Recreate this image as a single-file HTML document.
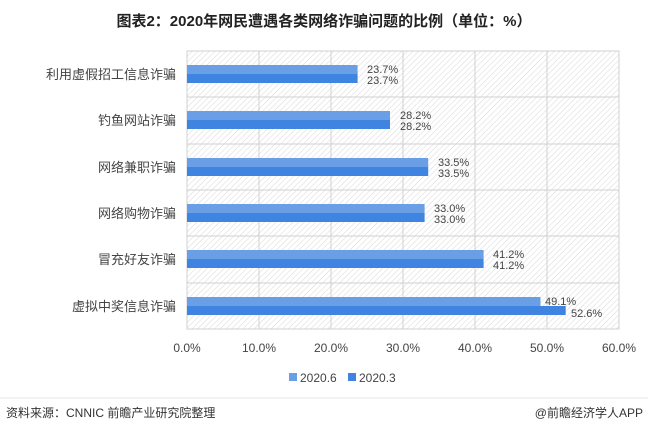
<!DOCTYPE html>
<html><head><meta charset="utf-8"><style>
body{margin:0;background:#fff;width:648px;height:435px;overflow:hidden;font-family:"Liberation Sans","Noto Sans CJK SC",sans-serif;}
</style></head><body>
<svg width="648" height="435" xmlns="http://www.w3.org/2000/svg" font-family="Liberation Sans, Noto Sans CJK SC, sans-serif">
<defs>
<pattern id="h" width="4" height="4" patternUnits="userSpaceOnUse" patternTransform="rotate(45)">
<line x1="0" y1="0" x2="0" y2="4" stroke="#d8d8d8" stroke-width="1"/>
</pattern>
</defs>
<text x="324" y="26" text-anchor="middle" font-size="15" font-weight="bold" fill="#222">图表2：2020年网民遭遇各类网络诈骗问题的比例（单位：%）</text>
<rect x="187" y="51" width="432" height="278" fill="url(#h)" stroke="#d0d0d0"/>
<g stroke="#d0d0d0">
<line x1="259" y1="51" x2="259" y2="329"/><line x1="331" y1="51" x2="331" y2="329"/>
<line x1="403" y1="51" x2="403" y2="329"/><line x1="475" y1="51" x2="475" y2="329"/>
<line x1="547" y1="51" x2="547" y2="329"/>
<line x1="187" y1="97" x2="619" y2="97"/><line x1="187" y1="144" x2="619" y2="144"/>
<line x1="187" y1="190" x2="619" y2="190"/><line x1="187" y1="236" x2="619" y2="236"/>
<line x1="187" y1="283" x2="619" y2="283"/>
</g>
<g font-size="13" fill="#444" text-anchor="end">
<text x="176" y="79">利用虚假招工信息诈骗</text>
<text x="176" y="125">钓鱼网站诈骗</text>
<text x="176" y="172">网络兼职诈骗</text>
<text x="176" y="218">网络购物诈骗</text>
<text x="176" y="264">冒充好友诈骗</text>
<text x="176" y="311">虚拟中奖信息诈骗</text>
</g>
<g>
<rect x="187" y="65" width="170.6" height="9" fill="#6a9fe6"/><rect x="187" y="74" width="170.6" height="9" fill="#3f84e0"/>
<rect x="187" y="111" width="203" height="9" fill="#6a9fe6"/><rect x="187" y="120" width="203" height="9" fill="#3f84e0"/>
<rect x="187" y="158" width="241.2" height="9" fill="#6a9fe6"/><rect x="187" y="167" width="241.2" height="9" fill="#3f84e0"/>
<rect x="187" y="204" width="237.6" height="9" fill="#6a9fe6"/><rect x="187" y="213" width="237.6" height="9" fill="#3f84e0"/>
<rect x="187" y="250" width="296.6" height="9" fill="#6a9fe6"/><rect x="187" y="259" width="296.6" height="9" fill="#3f84e0"/>
<rect x="187" y="297" width="353.5" height="9" fill="#6a9fe6"/><rect x="187" y="306" width="378.7" height="9" fill="#3f84e0"/>
</g>
<g font-size="11" fill="#444">
<text x="367" y="73">23.7%</text><text x="367" y="84">23.7%</text>
<text x="400" y="119">28.2%</text><text x="400" y="130">28.2%</text>
<text x="438" y="166">33.5%</text><text x="438" y="177">33.5%</text>
<text x="434" y="212">33.0%</text><text x="434" y="223">33.0%</text>
<text x="493" y="258">41.2%</text><text x="493" y="269">41.2%</text>
<text x="545" y="305">49.1%</text><text x="571" y="317">52.6%</text>
</g>
<g font-size="12" fill="#444" text-anchor="middle">
<text x="187" y="352">0.0%</text><text x="259" y="352">10.0%</text><text x="331" y="352">20.0%</text>
<text x="403" y="352">30.0%</text><text x="475" y="352">40.0%</text><text x="547" y="352">50.0%</text>
<text x="619" y="352">60.0%</text>
</g>
<rect x="289" y="373" width="8" height="8" fill="#6a9fe6"/>
<text x="300" y="382" font-size="12" fill="#444">2020.6</text>
<rect x="348" y="373" width="8" height="8" fill="#3f84e0"/>
<text x="359" y="382" font-size="12" fill="#444">2020.3</text>
<line x1="0" y1="398" x2="648" y2="398" stroke="#e4e4e4"/>
<text x="6" y="417" font-size="12" fill="#333">资料来源：CNNIC 前瞻产业研究院整理</text>
<text x="643" y="417" font-size="12" fill="#333" text-anchor="end">@前瞻经济学人APP</text>
</svg>
</body></html>
